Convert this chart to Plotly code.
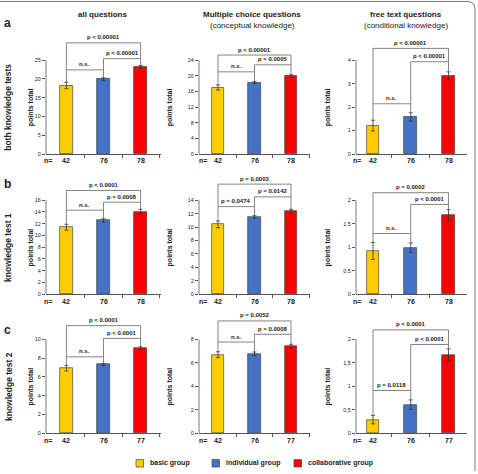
import plotly.graph_objects as go

# ---------------- data ----------------
groups = ["basic group", "individual group", "collaborative group"]
row_labels = ["both knowledge tests", "knowledge test 1", "knowledge test 2"]
row_letters = ["a", "b", "c"]
n_row_a = ["42", "76", "78"]
n_row_b = ["42", "76", "78"]
n_row_c = ["42", "76", "77"]

a1_mean = [18.25, 19.9, 23.2]
a1_err = [0.85, 0.4, 0.35]
a2_mean = [17.0, 18.3, 19.85]
a2_err = [0.65, 0.25, 0.4]
a3_mean = [1.21, 1.58, 3.34]
a3_err = [0.23, 0.18, 0.16]
b1_mean = [11.4, 12.55, 14.05]
b1_err = [0.5, 0.3, 0.4]
b2_mean = [10.4, 11.5, 12.35]
b2_err = [0.5, 0.2, 0.3]
b3_mean = [0.92, 0.99, 1.68]
b3_err = [0.18, 0.1, 0.12]
c1_mean = [6.93, 7.32, 9.04]
c1_err = [0.3, 0.1, 0.15]
c2_mean = [6.69, 6.77, 7.43]
c2_err = [0.25, 0.15, 0.15]
c3_mean = [0.29, 0.61, 1.67]
c3_err = [0.09, 0.1, 0.13]

a1_ticks = [0, 5, 10, 15, 20, 25]
a2_ticks = [0, 4, 8, 12, 16, 20, 24]
a3_ticks = [0, 1, 2, 3, 4]
b1_ticks = [0, 2, 4, 6, 8, 10, 12, 14, 16]
b2_ticks = [0, 2, 4, 6, 8, 10, 12, 14]
half_ticks = [0, 0.5, 1, 1.5, 2]
half_tick_text = ["0", "0,5", "1", "1,5", "2"]
c1_ticks = [0, 2, 4, 6, 8, 10]
c2_ticks = [0, 2, 4, 6, 8]

# brackets: (from group, to group, level, label)
a1_br = [(0, 1, 22.4, "n.s."), (1, 2, 25.4, "p < 0.00001"), (0, 2, 29.6, "p < 0.00001")]
a2_br = [(0, 1, 21.0, "n.s."), (1, 2, 22.8, "p = 0.0005"), (0, 2, 25.3, "p < 0.00001")]
a3_br = [(0, 1, 2.14, "n.s."), (1, 2, 3.93, "p < 0.00001"), (0, 2, 4.5, "p < 0.00001")]
b1_br = [(0, 1, 14.3, "n.s."), (1, 2, 15.66, "p = 0.0008"), (0, 2, 17.66, "p < 0.0001")]
b2_br = [(0, 1, 13.05, "p = 0.0474"), (1, 2, 14.5, "p = 0.0142"), (0, 2, 16.4, "p = 0.0003")]
b3_br = [(0, 1, 1.29, "n.s."), (1, 2, 1.91, "p < 0.0001"), (0, 2, 2.16, "p = 0.0002")]
c1_br = [(0, 1, 8.14, "n.s."), (1, 2, 10.1, "p < 0.0001"), (0, 2, 11.46, "p < 0.0001")]
c2_br = [(0, 1, 7.77, "n.s."), (1, 2, 8.43, "p = 0.0008"), (0, 2, 9.57, "p = 0.0052")]
c3_br = [(0, 1, 0.91, "p = 0.0118"), (1, 2, 1.89, "p < 0.0001"), (0, 2, 2.2, "p < 0.0001")]

col_titles = ["all questions", "Multiple choice questions", "free text questions"]
col_subtitles = ["", "(conceptual knowledge)", "(conditional knowledge)"]

# ---------------- layout helpers ----------------
W, H = 478, 474
FONT = "Liberation Sans, Arial, sans-serif"
bar_colors = ["#FFCC00", "#4472C4", "#FF0000"]
LINE = "#555555"


def px(x):
    return x / W


def py(y):
    return 1 - y / H


def ann(x, y, text, size, xref="paper", yref="paper", **kw):
    d = dict(x=x, y=y, xref=xref, yref=yref, text=text, showarrow=False,
             xanchor="center", yanchor="middle", borderpad=0,
             font=dict(family=FONT, size=size, color="#222"))
    d.update(kw)
    return d


# column geometry: axis left px, axis right px, x range
cols = [(46, 161, -0.55, 2.55), (199, 310, -0.52, 2.52), (356, 467, -0.45, 2.49)]
col_ylab_x = [31, 170, 328]
col_n_x = [47.5, 203, 357]
rows_zero = [155, 296, 436]
TICK_SPAN = 94.5
DOM_H = 135

panels = [
    [(a1_mean, a1_err, a1_ticks, None, a1_br), (a2_mean, a2_err, a2_ticks, None, a2_br), (a3_mean, a3_err, a3_ticks, None, a3_br)],
    [(b1_mean, b1_err, b1_ticks, None, b1_br), (b2_mean, b2_err, b2_ticks, None, b2_br), (b3_mean, b3_err, half_ticks, half_tick_text, b3_br)],
    [(c1_mean, c1_err, c1_ticks, None, c1_br), (c2_mean, c2_err, c2_ticks, None, c2_br), (c3_mean, c3_err, half_ticks, half_tick_text, c3_br)],
]
n_rows = [n_row_a, n_row_b, n_row_c]

fig = go.Figure()
layout = {}
shapes = []
annotations = []

k = 0
for r in range(3):
    z = rows_zero[r]
    for c in range(3):
        k += 1
        mean, err, ticks, ticktext, brs = panels[r][c]
        ax0, ax1, xr0, xr1 = cols[c]
        xname = "x" if k == 1 else f"x{k}"
        yname = "y" if k == 1 else f"y{k}"
        xkey = "xaxis" if k == 1 else f"xaxis{k}"
        ykey = "yaxis" if k == 1 else f"yaxis{k}"
        ymax = ticks[-1]
        ytop = ymax * DOM_H / TICK_SPAN
        layout[xkey] = dict(
            domain=[px(ax0), px(ax1)], range=[xr0, xr1], anchor=yname,
            showgrid=False, zeroline=False, showline=True, linecolor=LINE, linewidth=0.8,
            tickvals=[0.5, 1.5, 2.5], ticks="outside", ticklen=3, tickwidth=0.8,
            tickcolor=LINE, showticklabels=False, fixedrange=True,
        )
        layout[ykey] = dict(
            domain=[py(z), py(z - DOM_H)], range=[0, ytop], anchor=xname,
            showgrid=False, zeroline=False, showline=False,
            tickvals=ticks, ticktext=ticktext if ticktext else [str(t) for t in ticks],
            ticks="outside", ticklen=3, tickwidth=0.8, tickcolor=LINE,
            tickfont=dict(family=FONT, size=5.5, color="#222"), fixedrange=True,
        )
        fig.add_trace(go.Bar(
            x=[0, 1, 2], y=mean, width=0.34, xaxis=xname, yaxis=yname,
            marker=dict(color=bar_colors, line=dict(color="#444", width=0.7)),
            error_y=dict(type="data", array=err, visible=True, color="#333",
                         thickness=0.8, width=2),
            showlegend=False, hoverinfo="skip",
        ))
        # y axis line (only up to the top tick)
        shapes.append(dict(type="line", xref="paper", yref=yname,
                           x0=px(ax0), x1=px(ax0), y0=0, y1=ymax,
                           line=dict(color=LINE, width=0.8)))
        # brackets
        for (i, j, lev, lab) in brs:
            def bottom(p):
                cands = [l2 for (i2, j2, l2, _) in brs if l2 < lev and i2 <= p <= j2]
                if cands:
                    return max(cands)
                return mean[p] + err[p]
            b0, b1 = bottom(i), bottom(j)
            shapes.append(dict(type="path", xref=xname, yref=yname,
                               path=f"M {i},{b0} L {i},{lev} L {j},{lev} L {j},{b1}",
                               line=dict(color="#666", width=0.8)))
            annotations.append(ann((i + j) / 2, lev, f"<b>{lab}</b>", 6,
                                   xref=xname, yref=yname, yanchor="bottom", yshift=1.5))
        # y-axis title
        annotations.append(ann(px(col_ylab_x[c]), py(z - 47), "<b>points total</b>", 7,
                               textangle=-90))
        # n labels
        annotations.append(ann(px(col_n_x[c]), py(z + 7), "<b>n=</b>", 7))
        for gi in range(3):
            annotations.append(ann(gi, py(z + 7), f"<b>{n_rows[r][gi]}</b>", 7, xref=xname))
    # row label
    annotations.append(ann(px(8.5), py(z - 47), f"<b>{row_labels[r]}</b>", 8.5,
                           textangle=-90))

letter_y = [23.5, 185, 332]
for r in range(3):
    annotations.append(ann(px(7.5), py(letter_y[r]), f"<b>{row_letters[r]}</b>", 12))

title_x = [102, 252, 406]
for c in range(3):
    annotations.append(ann(px(title_x[c]), py(15), f"<b>{col_titles[c]}</b>", 8))
    if col_subtitles[c]:
        annotations.append(ann(px(title_x[c]), py(25.5), col_subtitles[c], 8))

# legend
leg_sq_x = [136, 212, 294]
leg_txt_x = [149, 225, 307]
for gi in range(3):
    shapes.append(dict(type="rect", xref="paper", yref="paper",
                       x0=px(leg_sq_x[gi]), x1=px(leg_sq_x[gi] + 7.5),
                       y0=py(470), y1=py(462.5),
                       fillcolor=bar_colors[gi], line=dict(color="#444", width=0.7)))
    annotations.append(ann(px(leg_txt_x[gi]), py(466.2), f"<b>{groups[gi]}</b>", 7,
                           xanchor="left"))

# outer frame (top and right edges)
shapes.append(dict(type="path", xref="paper", yref="paper",
                   path=(f"M 0,{py(1.5)} L {px(467)},{py(1.5)} "
                         f"Q {px(475)},{py(1.5)} {px(475)},{py(9.5)} L {px(475)},{py(474)}"),
                   line=dict(color="#777", width=1)))

fig.update_layout(
    width=W, height=H, margin=dict(l=0, r=0, t=0, b=0),
    paper_bgcolor="white", plot_bgcolor="white",
    shapes=shapes, annotations=annotations, showlegend=False, bargap=0,
    **layout,
)
fig.write_html("out.html", config={"displayModeBar": False})
